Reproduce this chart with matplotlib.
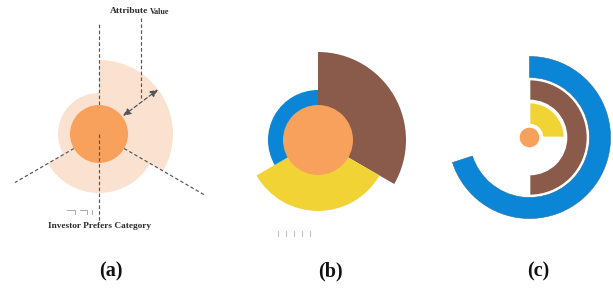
import matplotlib
matplotlib.use("Agg")
import matplotlib.pyplot as plt
from matplotlib.patches import Wedge, Circle
import numpy as np

# ---------------- data ----------------
categories = ["Category 1", "Category 2", "Category 3"]
# angular sectors (math degrees, counter-clockwise) for the three categories
sector_start = [-30, 210, 90]
sector_end = [90, 330, 210]
# panel (a): attribute value per category (outer radius, px)
a_values = [74, 59, 41]
a_core = 29
# panel (b): attribute value per category (outer radius, px)
b_values = [88, 71, 50]
b_core = 35
# panel (c): share of circle per category (ring sweep fraction)
c_fraction = [0.70, 0.50, 0.25]          # blue, brown, yellow
c_inner = [60, 37, 13]
c_outer = [81, 58, 35]
c_core = 10.5
panel_labels = ["(a)", "(b)", "(c)"]

# ---------------- styles ----------------
ORANGE = "#F7A15C"
PEACH = "#FBE2D0"
BROWN = "#8A5B4A"
YELLOW = "#F2D335"
BLUE = "#0B86D6"
GRAY = "#555555"
b_colors = [BROWN, YELLOW, BLUE]
c_colors = [BLUE, BROWN, YELLOW]

W, H = 613, 288
fig = plt.figure(figsize=(W / 100, H / 100), dpi=100)
ax = fig.add_axes([0, 0, 1, 1])
ax.set_xlim(0, W)
ax.set_ylim(0, H)
ax.set_aspect("equal")
ax.axis("off")


def Y(y):
    return H - y


serif = ["Liberation Serif", "DejaVu Serif"]

# ---------------- panel (a) ----------------
ca = (99, Y(134))
for s, e, r in zip(sector_start, sector_end, a_values):
    ax.add_patch(Wedge(ca, r, s, e, facecolor=PEACH, edgecolor="none", zorder=1))

dash = dict(color=GRAY, lw=0.85, linestyle=(0, (3, 2)))
# spokes
ax.plot([ca[0], ca[0]], [ca[1], Y(22)], zorder=2, **dash)
for ang, length in [(210, 97), (-30, 121)]:
    t = np.deg2rad(ang)
    ax.plot([ca[0] + a_core * np.cos(t), ca[0] + length * np.cos(t)],
            [ca[1] + a_core * np.sin(t), ca[1] + length * np.sin(t)], zorder=2, **dash)
ax.add_patch(Circle(ca, a_core, facecolor=ORANGE, edgecolor="none", zorder=3))
ax.plot([ca[0], ca[0]], [ca[1], Y(221)], zorder=4, **dash)

# attribute value arrow
t = np.deg2rad(37)
p1 = (ca[0] + (a_core + 1) * np.cos(t), ca[1] + (a_core + 1) * np.sin(t))
p2 = (ca[0] + a_values[0] * np.cos(t), ca[1] + a_values[0] * np.sin(t))
ax.annotate("", xy=p2, xytext=p1,
            arrowprops=dict(arrowstyle="<|-|>,head_length=0.45,head_width=0.2",
                            color=GRAY, lw=0.9, linestyle=(0, (3, 2)),
                            shrinkA=0, shrinkB=0), zorder=5)
ax.plot([141, 141], [Y(18), Y(98)], zorder=4, **dash)
ax.text(148, Y(11), "Attribute", fontsize=6.8, fontweight="bold", family=serif,
        ha="right", va="center", color="#2a2a2a")
ax.text(149.5, Y(11.5), "Value", fontsize=5.9, fontweight="bold", family=serif,
        ha="left", va="center", color="#2a2a2a")
ax.text(99, Y(226), "Investor Prefers Category", fontsize=6.7, fontweight="bold",
        family=serif, ha="center", va="center", color="#2a2a2a")
# faint legend remnants
lg = dict(color="#999999", lw=0.6)
for x0, x1 in [(67, 75), (80, 87)]:
    ax.plot([x0, x1, x1], [Y(210), Y(210), Y(214)], **lg)
ax.plot([92, 92], [Y(210), Y(214)], **lg)

# ---------------- panel (b) ----------------
cb = (318, Y(140))
for s, e, r, c in zip(sector_start, sector_end, b_values, b_colors):
    ax.add_patch(Wedge(cb, r, s, e, facecolor=c, edgecolor="none", zorder=1))
ax.add_patch(Circle(cb, b_core, facecolor=ORANGE, edgecolor="none", zorder=3))
for x in [278, 286, 294, 302, 310]:
    ax.plot([x, x], [Y(231), Y(236)], color="#AAAAAA", lw=0.6)

# ---------------- panel (c) ----------------
cc = (529.5, Y(137.5))
for frac, ri, ro, c in zip(c_fraction, c_inner, c_outer, c_colors):
    start = 90 - frac * 360
    ec = "#2C6A95" if c == BLUE else "white"
    lw = 0.4 if c == BLUE else 1.2
    ax.add_patch(Wedge(cc, ro, start, 90, width=ro - ri, facecolor=c,
                       edgecolor=ec, lw=lw, zorder=2))
ax.add_patch(Circle(cc, c_core, facecolor=ORANGE, edgecolor="white", lw=1.0, zorder=3))

# ---------------- panel labels ----------------
for x, lab in zip([111, 330, 538], panel_labels):
    ax.text(x, Y(271), lab, fontsize=14.5, fontweight="bold", family=serif,
            ha="center", va="center", color="#111111")

fig.savefig("out.png", dpi=100)
